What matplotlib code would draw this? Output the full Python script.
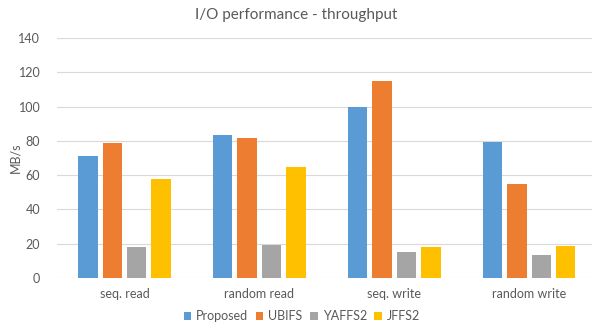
import numpy as np
import matplotlib
matplotlib.use("Agg")
import matplotlib.pyplot as plt

categories = ["seq. read", "random read", "seq. write", "random write"]
series_names = ["Proposed", "UBIFS", "YAFFS2", "JFFS2"]
proposed = [71.2, 83.2, 100.0, 79.2]
ubifs = [78.6, 81.5, 115.1, 55.0]
yaffs2 = [18.3, 19.1, 15.2, 13.4]
jffs2 = [57.6, 64.8, 18.3, 18.9]
colors = ["#5B9BD5", "#ED7D31", "#A5A5A5", "#FFC000"]

plt.rcParams['font.family'] = ['Lato', 'DejaVu Sans']
text_color = "#595959"

fig = plt.figure(figsize=(5.92, 3.24), dpi=100)
# plot area is slightly wider than the picture on the right, as in the reference
ax = fig.add_axes([57 / 592, 46 / 324, 539.5 / 592, 240 / 324])

x = np.arange(len(categories))
step = 0.181
width = 0.144
for i, (name, vals) in enumerate(zip(series_names, [proposed, ubifs, yaffs2, jffs2])):
    ax.bar(x + (i - 1.5) * step, vals, width, color=colors[i], label=name, zorder=3)

ax.set_xlim(-0.5, 3.5)
ax.set_ylim(0, 140)
ax.set_yticks(range(0, 141, 20))
ax.set_xticks(x)
ax.set_xticklabels(categories)
ax.grid(axis='y', color="#D9D9D9", linewidth=0.8, zorder=0)
for s in ax.spines.values():
    s.set_visible(False)
ax.tick_params(axis='both', length=0, colors=text_color, labelsize=9)
ax.tick_params(axis='y', pad=12)
ax.tick_params(axis='x', pad=7)

fig.text(15 / 592, 1 - 158 / 324, "MB/s", rotation=90, ha='center', va='center',
         color=text_color, fontsize=9)
fig.text(0.5, 1 - 15 / 324, "I/O performance - throughput", ha='center', va='center',
         color=text_color, fontsize=11)

fig.legend(loc='center', bbox_to_anchor=(302 / 592, 1 - 316 / 324), ncol=4, frameon=False,
           fontsize=9, handlelength=0.6, handleheight=0.6, handletextpad=0.4,
           columnspacing=0.6, labelcolor=text_color)

fig.savefig("out.png", dpi=100)
